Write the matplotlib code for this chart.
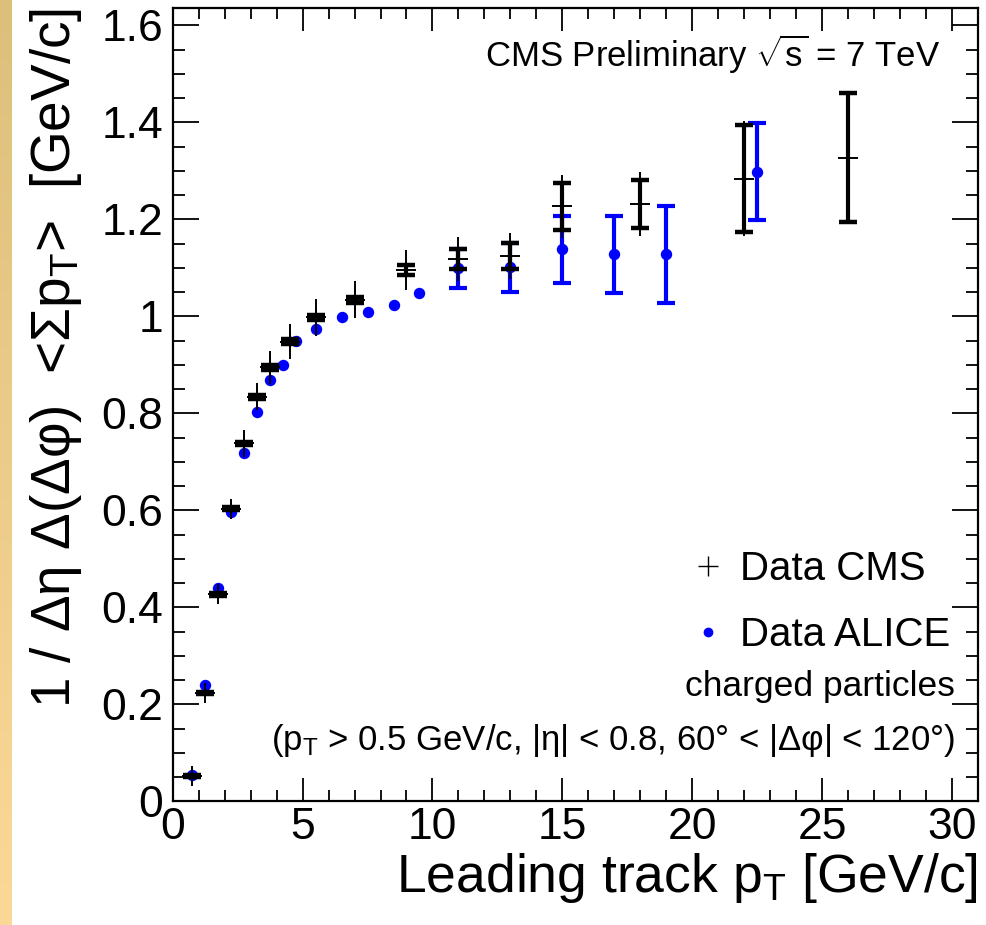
import matplotlib
matplotlib.use("Agg")
import matplotlib.pyplot as plt
import numpy as np
from matplotlib.lines import Line2D
from matplotlib.ticker import MultipleLocator

plt.rcParams['font.family'] = ['Liberation Sans', 'DejaVu Sans']
plt.rcParams['mathtext.fontset'] = 'custom'
plt.rcParams['mathtext.rm'] = 'Liberation Sans'
plt.rcParams['mathtext.it'] = 'Liberation Sans:italic'
plt.rcParams['mathtext.default'] = 'regular'

# CMS data (leading track pT, <sum pT> density)
cms_x = [0.75, 1.25, 1.75, 2.25, 2.75, 3.25, 3.75, 4.5, 5.5, 7.0, 9.0,
         11.0, 13.0, 15.0, 18.0, 22.0, 26.0]
cms_y = [0.052, 0.224, 0.427, 0.603, 0.738, 0.834, 0.895, 0.948, 0.998,
         1.034, 1.095, 1.118, 1.125, 1.227, 1.232, 1.284, 1.327]
cms_sys = [0.002, 0.002, 0.003, 0.003, 0.004, 0.004, 0.005, 0.005, 0.005,
           0.006, 0.010, 0.020, 0.027, 0.048, 0.050, 0.110, 0.133]
cms_tot = [0.008, 0.008, 0.010, 0.012, 0.027, 0.028, 0.034, 0.036, 0.038,
           0.038, 0.041, 0.045, 0.048, 0.065, 0.066, 0.118, 0.136]

# ALICE data
alice_x = [0.75, 1.25, 1.75, 2.25, 2.75, 3.25, 3.75, 4.25, 4.75, 5.5, 6.5,
           7.5, 8.5, 9.5, 11.0, 13.0, 15.0, 17.0, 19.0, 22.5]
alice_y = [0.055, 0.240, 0.440, 0.597, 0.718, 0.803, 0.869, 0.899, 0.949,
           0.974, 0.998, 1.009, 1.023, 1.049, 1.099, 1.101, 1.138, 1.128,
           1.128, 1.298]
alice_err = [0, 0, 0, 0, 0, 0, 0, 0, 0, 0, 0, 0, 0, 0,
             0.040, 0.050, 0.070, 0.080, 0.100, 0.100]

fig = plt.figure(figsize=(9.87, 9.25), dpi=100)

# gold strip on the left edge
strip = fig.add_axes([0, 0, 12 / 987, 1])
top_c = np.array([220, 192, 122]) / 255
bot_c = np.array([252, 216, 152]) / 255
t = np.linspace(0, 1, 200)[:, None]
grad = (top_c[None, :] * (1 - t) + bot_c[None, :] * t)[:, None, :]
strip.imshow(grad, aspect='auto', extent=[0, 1, 0, 1])
strip.axis('off')

ax = fig.add_axes([172.7 / 987, 1 - 801.3 / 925, (978 - 172.7) / 987, (801.3 - 8) / 925])

# ALICE: error bars only where visible, then dots
ax_ = np.array(alice_x)
ay_ = np.array(alice_y)
ae_ = np.array(alice_err)
m = ae_ > 0
ax.errorbar(ax_[m], ay_[m], yerr=ae_[m], fmt='none', ecolor='#0000ff',
            elinewidth=3, capsize=6.2, capthick=3, zorder=2)
ax.plot(ax_, ay_, 'o', color='#0000ff', ms=7.2, mec='#0000ff', zorder=3)

# CMS: thin total error, thick systematic with caps, + marker
ax.errorbar(cms_x, cms_y, yerr=cms_tot, fmt='none', ecolor='black',
            elinewidth=1.4, zorder=4)
ax.errorbar(cms_x, cms_y, yerr=cms_sys, fmt='none', ecolor='black',
            elinewidth=3, capsize=6.5, capthick=3.2, zorder=4)
ax.plot(cms_x, cms_y, '+', color='black', ms=14, mew=1.4, zorder=5)

ax.set_xlim(0, 31)
ax.set_ylim(0, 1.636)
ax.xaxis.set_major_locator(MultipleLocator(5))
ax.xaxis.set_minor_locator(MultipleLocator(1))
ax.yaxis.set_major_locator(MultipleLocator(0.2))
ax.yaxis.set_minor_locator(MultipleLocator(0.05))
ax.yaxis.set_major_formatter(plt.FuncFormatter(lambda v, p: '%g' % round(v, 2)))

ax.tick_params(axis='both', which='both', direction='in', top=True, right=True,
               width=1.3, labelsize=32)
ax.tick_params(axis='y', which='major', length=18.5, pad=7)
ax.tick_params(axis='y', which='minor', length=8.6)
ax.tick_params(axis='x', which='major', length=16.5, pad=4)
ax.tick_params(axis='x', which='minor', length=8)
for s in ax.spines.values():
    s.set_linewidth(1.6)

ax.set_xlabel('Leading track p$_\\mathrm{T}$ [GeV/c]', fontsize=38.5, loc='right',
              labelpad=2)
ax.set_ylabel('1 / \u0394\u03b7 \u0394(\u0394\u03c6)  <\u03a3p$_\\mathrm{T}$>  [GeV/c]',
              fontsize=39.5, loc='top', labelpad=12)

ax.text(0.953, 0.941, 'CMS Preliminary $\\sqrt{\\mathrm{s}}$ = 7 TeV',
        transform=ax.transAxes, ha='right', va='center', fontsize=25)

handles = [Line2D([], [], ls='none', marker='+', color='black', ms=14, mew=1.0),
           Line2D([], [], ls='none', marker='o', color='#0000ff', ms=6)]
ax.legend(handles, ['Data CMS', 'Data ALICE'], loc='upper left',
          bbox_to_anchor=(0.64, 0.317), frameon=False, fontsize=29,
          handlelength=1.0, handletextpad=0.3, labelspacing=0.7,
          borderpad=0, borderaxespad=0)

ax.text(0.9714, 0.145, 'charged particles', transform=ax.transAxes,
        ha='right', va='center', fontsize=25.5)
ax.text(0.9714, 0.077,
        '(p$_\\mathrm{T}$ > 0.5 GeV/c, |\u03b7| < 0.8, 60\u00b0 < |\u0394\u03c6| < 120\u00b0)',
        transform=ax.transAxes, ha='right', va='center', fontsize=25)

fig.savefig('out.png', dpi=100)
